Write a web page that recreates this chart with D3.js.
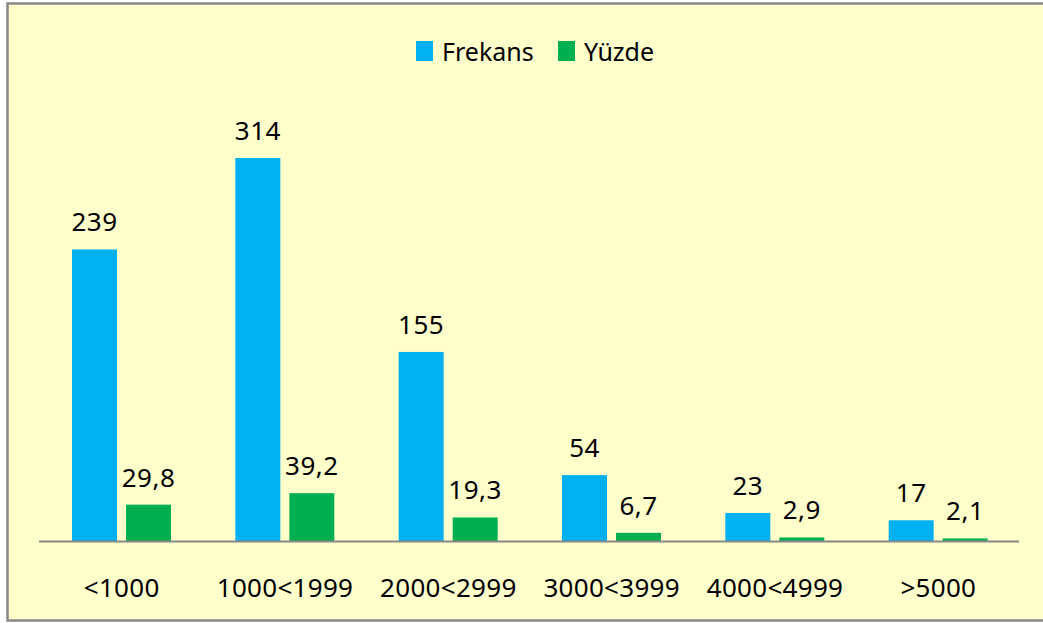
<html>
<head>
<meta charset="utf-8">
<title>Frekans / Yüzde</title>
<style>
  body { margin: 0; background: #fff; }
  text { font-family: "Noto Sans", "Open Sans", sans-serif; fill: #000; }
  .val { font-size: 26px; text-anchor: middle; letter-spacing: 0.5px; }
  .cat { font-size: 26px; text-anchor: middle; letter-spacing: 0.3px; }
  .leg { font-size: 25px; }
</style>
</head>
<body>
<script src="https://cdn.jsdelivr.net/npm/d3@7"></script>
<script>
var categories = ["<1000", "1000<1999", "2000<2999", "3000<3999", "4000<4999", ">5000"];
var seriesNames = ["Frekans", "Yüzde"];
var frekans = [239, 314, 155, 54, 23, 17];
var yuzde = [29.8, 39.2, 19.3, 6.7, 2.9, 2.1];
var colors = ["#00B0F0", "#00B050"];

var width = 1043, height = 623;
var svg = d3.select("body").append("svg")
  .attr("width", width)
  .attr("height", height);

// frame
svg.append("rect")
  .attr("x", 7.5).attr("y", 3.5)
  .attr("width", 1060).attr("height", 617)
  .attr("fill", "#FFFFCC")
  .attr("stroke", "#888")
  .attr("stroke-width", 2.5);

var left = 39, right = 1019, base = 541;

var x0 = d3.scaleBand().domain(categories).range([left, right]);
var x1 = d3.scaleBand().domain(seriesNames).range([33, 132]).paddingInner(9 / 54);
var y = d3.scaleLinear().domain([0, 314]).range([base, 158]);

var rows = categories.map(function(c, i) {
  return { cat: c, values: [
    { name: seriesNames[0], v: frekans[i], label: String(frekans[i]) },
    { name: seriesNames[1], v: yuzde[i], label: String(yuzde[i]).replace(".", ",") }
  ]};
});

var g = svg.selectAll(".grp").data(rows).enter().append("g")
  .attr("transform", function(d) { return "translate(" + x0(d.cat) + ",0)"; });

g.selectAll("rect").data(function(d) { return d.values; }).enter().append("rect")
  .attr("x", function(d) { return x1(d.name); })
  .attr("y", function(d) { return y(d.v); })
  .attr("width", x1.bandwidth())
  .attr("height", function(d) { return base - y(d.v); })
  .attr("fill", function(d, i) { return colors[i]; });

g.selectAll(".val").data(function(d) { return d.values; }).enter().append("text")
  .attr("class", "val")
  .attr("x", function(d) { return x1(d.name) + x1.bandwidth() / 2; })
  .attr("y", function(d) { return y(d.v) - 18; })
  .text(function(d) { return d.label; });

// axis line
svg.append("line")
  .attr("x1", left).attr("x2", right)
  .attr("y1", base + 0.5).attr("y2", base + 0.5)
  .attr("stroke", "#888").attr("stroke-width", 2.2);

svg.selectAll(".cat").data(categories).enter().append("text")
  .attr("class", "cat")
  .attr("x", function(d) { return x0(d) + x0.bandwidth() / 2 + 1; })
  .attr("y", 597)
  .text(function(d) { return d; });

// legend
var legX = [416, 558];
var leg = svg.selectAll(".legitem").data(seriesNames).enter().append("g")
  .attr("transform", function(d, i) { return "translate(" + legX[i] + ",41)"; });
leg.append("rect").attr("width", 17).attr("height", 20)
  .attr("fill", function(d, i) { return colors[i]; });
leg.append("text").attr("class", "leg").attr("x", 26).attr("y", 20)
  .text(function(d) { return d; });
</script>
</body>
</html>
